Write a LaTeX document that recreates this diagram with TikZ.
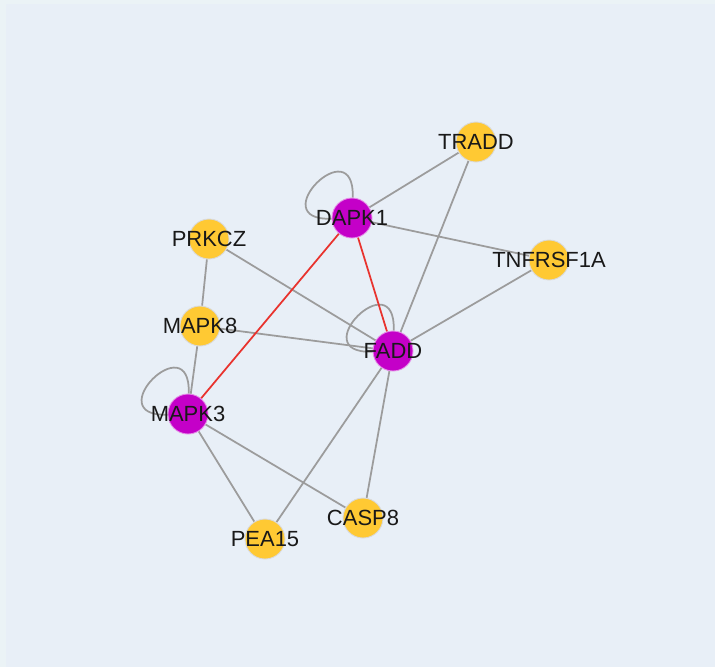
\documentclass[tikz,border=0pt]{standalone}
\usepackage{fontspec}
\setmainfont{Liberation Sans}
\usepackage{tikz}

\definecolor{canvasedge}{HTML}{EBF3F6}
\definecolor{canvasfill}{HTML}{E8EFF7}
\definecolor{geneyellow}{HTML}{FFC933}
\definecolor{genepurple}{HTML}{C400C8}
\definecolor{linkgray}{HTML}{9C9C9C}
\definecolor{linkred}{HTML}{E8332E}

\pgfdeclarelayer{canvas}
\pgfdeclarelayer{links}
\pgfsetlayers{canvas,links,main}

\tikzset{
  gene/.style={circle, minimum size=0.8cm, inner sep=0pt, fill=geneyellow, draw=black!15, line width=0.5pt},
  hub/.style={gene, fill=genepurple, draw=genepurple!45},
  genelbl/.style={font=\fontsize{12.5}{14}\selectfont, text=black!90, inner sep=0pt},
  link/.style={draw=linkgray, line width=1pt},
  redlink/.style={draw=linkred, line width=1pt},
  selfloop/.style={link, out=88, in=182, distance=1.4cm},
}

\begin{document}
\begin{tikzpicture}[x=0.02cm, y=-0.02cm]
        \begin{pgfonlayer}{canvas}
            \fill[canvasedge] (0,0) rectangle (715,667);
            \fill[canvasfill] (6,4) rectangle (715,667);
        \end{pgfonlayer}
        \useasboundingbox (0,0) rectangle (715,667);

        \node[gene, label={[genelbl]center:TRADD}] (tradd) at (476,142) {};
        \node[hub, label={[genelbl]center:DAPK1}] (dapk1) at (352,218) {};
        \node[gene, label={[genelbl]center:PRKCZ}] (prkcz) at (209,239) {};
        \node[gene, label={[genelbl]center:TNFRSF1A}] (tnfrsf1a) at (549,260) {};
        \node[gene, label={[genelbl]center:MAPK8}] (mapk8) at (200,326) {};
        \node[hub, label={[genelbl]center:FADD}] (fadd) at (393,351) {};
        \node[hub, label={[genelbl]center:MAPK3}] (mapk3) at (188,414) {};
        \node[gene, label={[genelbl]center:PEA15}] (pea15) at (265,539) {};
        \node[gene, label={[genelbl]center:CASP8}] (casp8) at (363,518) {};

        \begin{pgfonlayer}{links}
            % grey links
            \draw[link] (dapk1) -- (tradd);
            \draw[link] (dapk1) -- (tnfrsf1a);
            \draw[link] (tradd) -- (fadd);
            \draw[link] (tnfrsf1a) -- (fadd);
            \draw[link] (prkcz) -- (fadd);
            \draw[link] (prkcz) -- (mapk8);
            \draw[link] (mapk8) -- (fadd);
            \draw[link] (mapk8) -- (mapk3);
            \draw[link] (fadd) -- (pea15);
            \draw[link] (fadd) -- (casp8);
            \draw[link] (mapk3) -- (pea15);
            \draw[link] (mapk3) -- (casp8);
            % self loops
            \draw[selfloop] (dapk1) to (dapk1);
            \draw[selfloop] (fadd) to (fadd);
            \draw[selfloop] (mapk3) to (mapk3);
            % red links
            \draw[redlink] (dapk1) -- (fadd);
            \draw[redlink] (dapk1) -- (mapk3);
        \end{pgfonlayer}
    \end{tikzpicture}
\end{document}
